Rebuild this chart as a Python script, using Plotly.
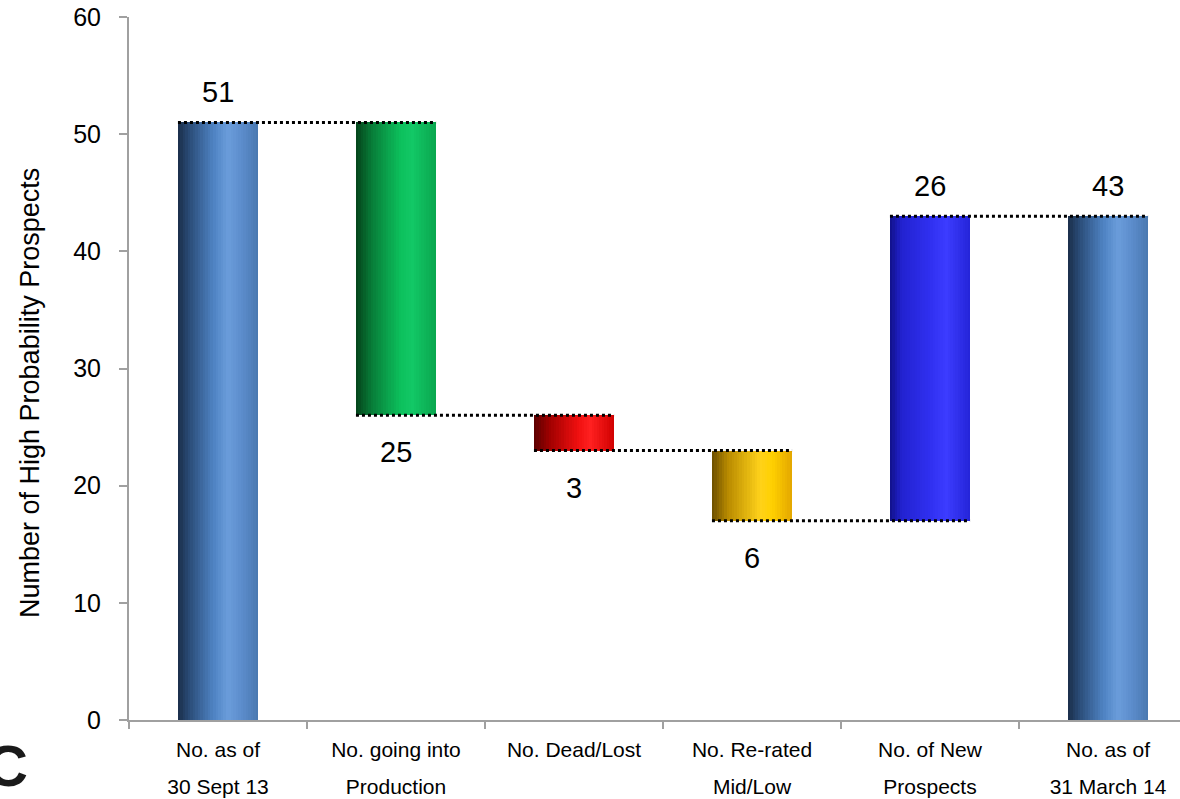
import plotly.graph_objects as go

# ---------------- data ----------------
cat_line1 = ["No. as of", "No. going into", "No. Dead/Lost", "No. Re-rated", "No. of New", "No. as of"]
cat_line2 = ["30 Sept 13", "Production", "", "Mid/Low", "Prospects", "31 March 14"]
start_value = 51
changes = [-25, -3, -6, 26]
end_value = 43
y_ticks = [0, 10, 20, 30, 40, 50, 60]
y_title = "Number of High Probability Prospects"

# colour stops (position 0..1 across the bar, colour) for each bar, giving a cylinder look
bar_shades = [
    [(0.0, "#1a2d48"), (0.15, "#2b4d79"), (0.45, "#4f84c4"), (0.62, "#6b9ddb"), (0.8, "#5b8ccb"), (1.0, "#4a78b0")],
    [(0.0, "#04431a"), (0.2, "#087c38"), (0.55, "#0cc05c"), (0.7, "#12c866"), (1.0, "#0aa64e")],
    [(0.0, "#5a0000"), (0.2, "#a00000"), (0.55, "#f01010"), (0.7, "#ff2020"), (1.0, "#d00000")],
    [(0.0, "#6b4e00"), (0.2, "#b88a00"), (0.6, "#ffd21a"), (0.75, "#ffd000"), (1.0, "#e3a600")],
    [(0.0, "#101088"), (0.15, "#2222d0"), (0.5, "#3030f0"), (0.7, "#3c3cff"), (1.0, "#2424d8")],
    [(0.0, "#1a2d48"), (0.15, "#2b4d79"), (0.45, "#4f84c4"), (0.62, "#6b9ddb"), (0.8, "#5b8ccb"), (1.0, "#4a78b0")],
]

# ---------------- derived waterfall geometry ----------------
bases, tops, levels = [0], [start_value], [start_value]
level = start_value
for c in changes:
    new = level + c
    bases.append(min(level, new))
    tops.append(max(level, new))
    level = new
    levels.append(level)
bases.append(0)
tops.append(end_value)
heights = [t - b for t, b in zip(tops, bases)]
labels = [start_value] + [abs(c) for c in changes] + [end_value]
label_above = [True] + [c > 0 for c in changes] + [True]
xs = list(range(len(cat_line1)))

BAR_W = 0.45
N_STRIPES = 32
FONT = "Liberation Sans, Arial, sans-serif"


def hex2rgb(h):
    h = h.lstrip("#")
    return tuple(int(h[i:i + 2], 16) for i in (0, 2, 4))


def shade(stops, t):
    for (p0, c0), (p1, c1) in zip(stops[:-1], stops[1:]):
        if p0 <= t <= p1:
            a = (t - p0) / (p1 - p0) if p1 > p0 else 0
            r0, g0, b0 = hex2rgb(c0)
            r1, g1, b1 = hex2rgb(c1)
            return "rgb(%d,%d,%d)" % (round(r0 + (r1 - r0) * a), round(g0 + (g1 - g0) * a), round(b0 + (b1 - b0) * a))
    return stops[-1][1]


fig = go.Figure()

stripe_w = BAR_W / N_STRIPES
for k in range(N_STRIPES):
    t = (k + 0.5) / N_STRIPES
    fig.add_trace(go.Bar(
        x=xs, y=heights, base=bases,
        width=stripe_w * (1.35 if k < N_STRIPES - 1 else 1.0),
        offset=-BAR_W / 2 + k * stripe_w,
        marker=dict(color=[shade(s, t) for s in bar_shades], line=dict(width=0)),
        hoverinfo="skip", showlegend=False,
    ))

# dotted connectors: from left edge of bar i to right edge of bar i+1
cx, cy = [], []
for i in range(len(xs) - 1):
    cx += [xs[i] - BAR_W / 2, xs[i + 1] + BAR_W / 2, None]
    cy += [levels[i], levels[i], None]
fig.add_trace(go.Scatter(
    x=cx, y=cy, mode="lines",
    line=dict(color="black", width=3, dash="dot"),
    hoverinfo="skip", showlegend=False,
))

# value labels
for i, x in enumerate(xs):
    fig.add_annotation(
        x=x, y=tops[i] if label_above[i] else bases[i],
        text=str(labels[i]), showarrow=False,
        yshift=30 if label_above[i] else -37,
        yanchor="middle", xanchor="center",
        font=dict(size=29, color="black", family=FONT),
    )

# y-axis title
fig.add_annotation(
    xref="paper", yref="paper", x=(30 - 129) / 1051, y=(720 - 393) / 703,
    text=y_title, textangle=-90, showarrow=False,
    xanchor="center", yanchor="middle",
    font=dict(size=27, color="black", family=FONT),
)

# partial logo letter at bottom-left (clipped by the page edge, as in the original)
fig.add_annotation(
    xref="paper", yref="paper", x=(30 - 129) / 1051, y=(720 - 765) / 703,
    text="<b>C</b>", showarrow=False, xanchor="right", yanchor="middle",
    font=dict(size=58, color="#1a1a1a", family=FONT),
)

X_RANGE = [-0.5, -0.5 + 1051 / 178]

fig.update_layout(
    width=1180, height=799,
    margin=dict(l=129, r=0, t=17, b=79),
    paper_bgcolor="white", plot_bgcolor="white",
    barmode="overlay", bargap=0,
    font=dict(family=FONT, color="black"),
    xaxis=dict(
        range=X_RANGE, tickmode="array", tickvals=xs, ticktext=cat_line1,
        ticks="", showgrid=False, zeroline=False,
        showline=True, linecolor="#a0a0a0", linewidth=2,
        tickfont=dict(size=21, color="black"),
        ticklabelstandoff=10,
        minor=dict(tickmode="array", tickvals=[x + 0.5 for x in xs[:-1]] + [-0.5],
                   ticks="outside", ticklen=7, tickwidth=2, tickcolor="#a0a0a0", showgrid=False),
        fixedrange=True,
    ),
    xaxis2=dict(
        range=X_RANGE, overlaying="x", anchor="y", side="bottom",
        tickmode="array", tickvals=xs, ticktext=cat_line2,
        ticks="", showgrid=False, zeroline=False, showline=False,
        tickfont=dict(size=21, color="black"),
        ticklabelstandoff=52,
    ),
    yaxis=dict(
        range=[0, 60], tickmode="array", tickvals=y_ticks,
        ticks="outside", ticklen=8, tickwidth=2, tickcolor="#a0a0a0",
        showline=True, linecolor="#a0a0a0", linewidth=2,
        showgrid=False, zeroline=False,
        tickfont=dict(size=25, color="black"),
        ticklabelstandoff=13,
    ),
)

# invisible trace to activate xaxis2 tick labels
fig.add_trace(go.Scatter(x=[xs[0]], y=[0], xaxis="x2", mode="markers",
                         marker=dict(opacity=0), hoverinfo="skip", showlegend=False))

fig.write_html("out.html")
